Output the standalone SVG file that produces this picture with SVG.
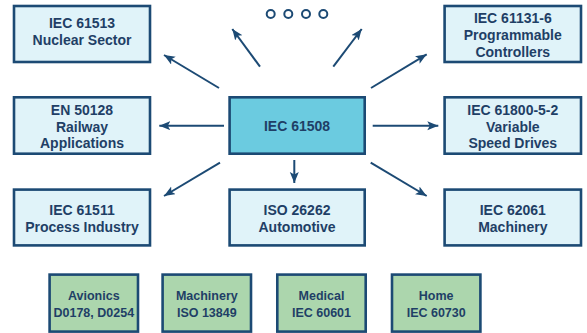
<svg xmlns="http://www.w3.org/2000/svg" width="587" height="333" viewBox="0 0 587 333">
<defs>
<style>
.b{fill:#e0f3f9;stroke:#1c4a74;stroke-width:2.6}
.c{fill:#6bcbe0;stroke:#1c4a74;stroke-width:2.6}
.g{fill:#acd6ad;stroke:#1c4a74;stroke-width:2.6}
text{font-family:"Liberation Sans",Arial,sans-serif;font-weight:bold;font-size:14px;fill:#1f3f66;text-anchor:middle}
.s{font-size:12.5px}
.a{stroke:#1c4a74;stroke-width:2;fill:none;marker-end:url(#ah)}
.o{fill:none;stroke:#1c4a74;stroke-width:2}
</style>
<marker id="ah" markerUnits="userSpaceOnUse" markerWidth="12" markerHeight="10" refX="11" refY="4.5" orient="auto">
<path d="M0,0 L11,4.5 L0,9 L2.5,4.5 z" fill="#1c4a74"/>
</marker>
</defs>
<rect width="587" height="333" fill="#ffffff"/>
<g id="dots">
<circle class="o" cx="270.7" cy="14" r="4"/>
<circle class="o" cx="288.3" cy="14" r="4"/>
<circle class="o" cx="306" cy="14" r="4"/>
<circle class="o" cx="323.3" cy="14" r="4"/>
</g>
<g id="connectors">
<line class="a" x1="260" y1="66.7" x2="232.3" y2="29"/>
<line class="a" x1="333.3" y1="66.7" x2="361.7" y2="29"/>
<line class="a" x1="219" y1="88" x2="164" y2="55"/>
<line class="a" x1="371" y1="88" x2="426.7" y2="54.3"/>
<line class="a" x1="224" y1="125.7" x2="159.3" y2="125.7"/>
<line class="a" x1="372.7" y1="125.7" x2="438.3" y2="125.7"/>
<line class="a" x1="220" y1="162.7" x2="164" y2="196"/>
<line class="a" x1="294.3" y1="160" x2="294.3" y2="183"/>
<line class="a" x1="370.7" y1="162.7" x2="426.7" y2="196"/>
</g>
<g id="n_nuclear">
<rect class="b" x="14" y="6" width="136" height="56"/>
<text x="82" y="28">IEC 61513</text>
<text x="82" y="45">Nuclear Sector</text>
</g>
<g id="n_plc">
<rect class="b" x="444.6" y="6" width="136.4" height="56"/>
<text x="512.8" y="23.3">IEC 61131-6</text>
<text x="512.8" y="40">Programmable</text>
<text x="512.8" y="56.7">Controllers</text>
</g>
<g id="n_rail">
<rect class="b" x="14" y="97.3" width="136" height="56.4"/>
<text x="82" y="115">EN 50128</text>
<text x="82" y="131.7">Railway</text>
<text x="82" y="148.3">Applications</text>
</g>
<g id="n_center">
<rect class="c" x="229.6" y="97.3" width="135.1" height="56.4"/>
<text x="297" y="130.7">IEC 61508</text>
</g>
<g id="n_drives">
<rect class="b" x="444.6" y="97.3" width="136.4" height="56.4"/>
<text x="512.8" y="115">IEC 61800-5-2</text>
<text x="512.8" y="131.7">Variable</text>
<text x="512.8" y="148.3">Speed Drives</text>
</g>
<g id="n_process">
<rect class="b" x="14" y="189.6" width="136" height="55.8"/>
<text x="82" y="215">IEC 61511</text>
<text x="82" y="231.7">Process Industry</text>
</g>
<g id="n_auto">
<rect class="b" x="229.6" y="189.6" width="135.1" height="55.8"/>
<text x="297" y="215">ISO 26262</text>
<text x="297" y="231.7">Automotive</text>
</g>
<g id="n_mach">
<rect class="b" x="444.6" y="189.6" width="136.4" height="55.8"/>
<text x="512.8" y="215">IEC 62061</text>
<text x="512.8" y="231.7">Machinery</text>
</g>
<g id="n_avionics">
<rect class="g" x="49.6" y="274.6" width="88.4" height="57"/>
<text class="s" x="93.8" y="300">Avionics</text>
<text class="s" x="93.8" y="316.7">D0178, D0254</text>
</g>
<g id="n_mach2">
<rect class="g" x="162.6" y="274.6" width="88.4" height="57"/>
<text class="s" x="206.8" y="300">Machinery</text>
<text class="s" x="206.8" y="316.7">ISO 13849</text>
</g>
<g id="n_medical">
<rect class="g" x="277.3" y="274.6" width="88.4" height="57"/>
<text class="s" x="321.5" y="300">Medical</text>
<text class="s" x="321.5" y="316.7">IEC 60601</text>
</g>
<g id="n_home">
<rect class="g" x="392" y="274.6" width="88.4" height="57"/>
<text class="s" x="436.2" y="300">Home</text>
<text class="s" x="436.2" y="316.7">IEC 60730</text>
</g>
</svg>
